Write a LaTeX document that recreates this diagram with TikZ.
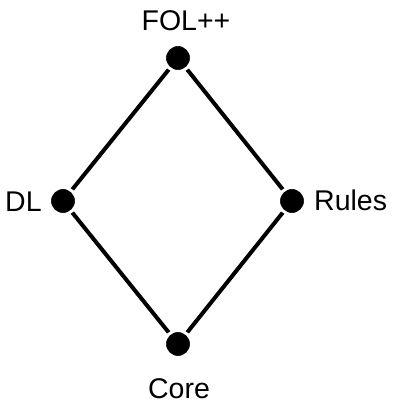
\documentclass[tikz,border=0pt]{standalone}
\usepackage{fontspec}
\setmainfont{Liberation Sans}
\begin{document}
\begin{tikzpicture}[x=1pt,y=-1pt,
  dot/.style={circle,fill=black,draw=white,line width=3pt,minimum size=27pt,inner sep=0pt},
  lab/.style={font=\fontsize{28.5}{34}\selectfont,inner sep=0pt},
  edge/.style={line width=4pt}]
\useasboundingbox (0,0) rectangle (392,405);
\coordinate (t) at (178,58);
\coordinate (l) at (63,201);
\coordinate (r) at (292,201);
\coordinate (b) at (178,344);
\draw[edge] (t) -- (l) -- (b) -- (r) -- cycle;
\node[dot] (top) at (t) {};
\node[dot] (left) at (l) {};
\node[dot] (right) at (r) {};
\node[dot] (bottom) at (b) {};
\node[lab,anchor=base] (fol) at (186,30) {FOL++};
\node[lab,anchor=base west] (dl) at (5,211) {DL};
\node[lab,anchor=base west] (rules) at (314,210) {Rules};
\node[lab,anchor=base] (core) at (179,398) {Core};
\end{tikzpicture}
\end{document}
